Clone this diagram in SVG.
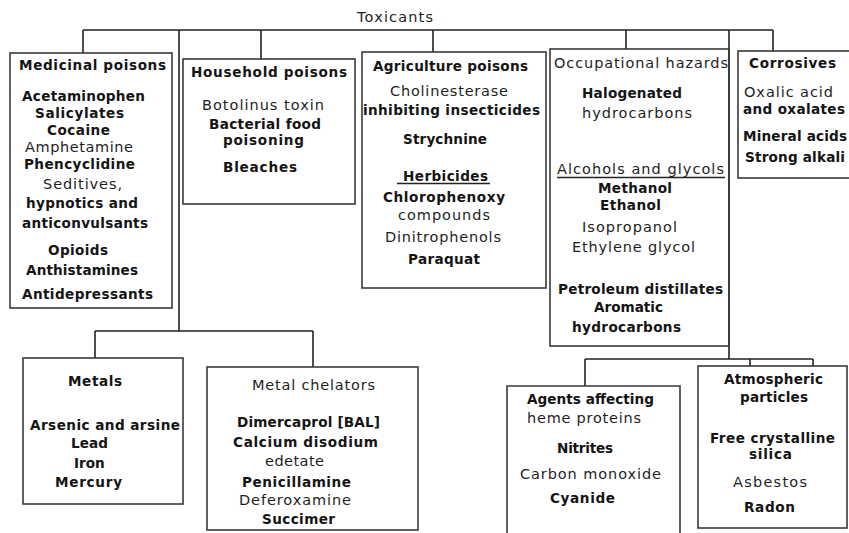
<svg xmlns="http://www.w3.org/2000/svg" width="849" height="533" viewBox="0 0 849 533">
<style>
.box{fill:none;stroke:#3a3a3a;stroke-width:1.6}
.con{fill:none;stroke:#222;stroke-width:1.6}
text{font-family:"DejaVu Sans","Liberation Sans",Arial,sans-serif;font-size:13.6px;fill:#141414;font-weight:bold}
text.r{font-weight:normal;font-size:14.5px;fill:#1e1e1e}
.ul{stroke:#222;stroke-width:1.3}
</style>
<rect width="849" height="533" fill="#fff"/>
<g id="connectors">
<path class="con" d="M83,30 H773 M83,30 V53 M261,30 V59 M433,30 V52 M626,30 V49 M773,30 V51"/>
<path class="con" d="M179,30 V331 M95,331 H313 M95,331 V358 M313,331 V367"/>
<path class="con" d="M729,30 V359 M585,359 H813 M585,359 V386 M750,359 V366 M813,359 V366"/>
</g>
<g id="toxicants">
<text class="r" x="357" y="22" textLength="76" lengthAdjust="spacing">Toxicants</text>
</g>
<g id="medicinal">
<rect class="box" x="10" y="53" width="162" height="255"/>
<text x="19" y="70" textLength="147" lengthAdjust="spacing">Medicinal poisons</text>
<text x="22" y="101" textLength="123" lengthAdjust="spacing">Acetaminophen</text>
<text x="35" y="118" textLength="89" lengthAdjust="spacing">Salicylates</text>
<text x="47" y="135" textLength="63" lengthAdjust="spacing">Cocaine</text>
<text class="r" x="25" y="152" textLength="108" lengthAdjust="spacing">Amphetamine</text>
<text x="24" y="169" textLength="111" lengthAdjust="spacing">Phencyclidine</text>
<text class="r" x="43" y="189" textLength="79" lengthAdjust="spacing">Seditives,</text>
<text x="26" y="208" textLength="112" lengthAdjust="spacing">hypnotics and</text>
<text x="22" y="228" textLength="126" lengthAdjust="spacing">anticonvulsants</text>
<text x="48" y="255" textLength="60" lengthAdjust="spacing">Opioids</text>
<text x="26" y="275" textLength="112" lengthAdjust="spacing">Anthistamines</text>
<text x="22" y="299" textLength="131" lengthAdjust="spacing">Antidepressants</text>
</g>
<g id="household">
<rect class="box" x="183" y="59" width="172" height="145"/>
<text x="191" y="77" textLength="156" lengthAdjust="spacing">Household poisons</text>
<text class="r" x="202" y="110" textLength="122" lengthAdjust="spacing">Botolinus toxin</text>
<text x="209" y="129" textLength="112" lengthAdjust="spacing">Bacterial food</text>
<text x="223" y="145" textLength="81" lengthAdjust="spacing">poisoning</text>
<text x="223" y="172" textLength="74" lengthAdjust="spacing">Bleaches</text>
</g>
<g id="agriculture">
<rect class="box" x="362" y="52" width="184" height="236"/>
<text x="373" y="71" textLength="155" lengthAdjust="spacing">Agriculture poisons</text>
<text class="r" x="390" y="96" textLength="118" lengthAdjust="spacing">Cholinesterase</text>
<text x="363" y="115" textLength="177" lengthAdjust="spacing">inhibiting insecticides</text>
<text x="403" y="144" textLength="84" lengthAdjust="spacing">Strychnine</text>
<text x="403" y="181" textLength="85" lengthAdjust="spacing">Herbicides</text>
<line class="ul" x1="397" y1="183.5" x2="490" y2="183.5"/>
<text x="383" y="202" textLength="122" lengthAdjust="spacing">Chlorophenoxy</text>
<text class="r" x="398" y="220" textLength="92" lengthAdjust="spacing">compounds</text>
<text class="r" x="385" y="242" textLength="116" lengthAdjust="spacing">Dinitrophenols</text>
<text x="408" y="264" textLength="72" lengthAdjust="spacing">Paraquat</text>
</g>
<g id="occupational">
<rect class="box" x="550" y="49" width="179" height="297"/>
<text class="r" x="554" y="68" textLength="174" lengthAdjust="spacing">Occupational hazards</text>
<text x="582" y="98" textLength="100" lengthAdjust="spacing">Halogenated</text>
<text class="r" x="582" y="118" textLength="110" lengthAdjust="spacing">hydrocarbons</text>
<text class="r" x="557" y="174" textLength="167" lengthAdjust="spacing">Alcohols and glycols</text>
<line class="ul" x1="557" y1="177.5" x2="725" y2="177.5"/>
<text x="598" y="193" textLength="74" lengthAdjust="spacing">Methanol</text>
<text x="600" y="210" textLength="61" lengthAdjust="spacing">Ethanol</text>
<text class="r" x="582" y="232" textLength="95" lengthAdjust="spacing">Isopropanol</text>
<text class="r" x="572" y="252" textLength="123" lengthAdjust="spacing">Ethylene glycol</text>
<text x="558" y="294" textLength="165" lengthAdjust="spacing">Petroleum distillates</text>
<text x="594" y="312" textLength="69" lengthAdjust="spacing">Aromatic</text>
<text x="572" y="332" textLength="109" lengthAdjust="spacing">hydrocarbons</text>
</g>
<g id="corrosives">
<rect class="box" x="738" y="51" width="120" height="127"/>
<text x="749" y="68" textLength="87" lengthAdjust="spacing">Corrosives</text>
<text class="r" x="744" y="97" textLength="89" lengthAdjust="spacing">Oxalic acid</text>
<text x="743" y="114" textLength="102" lengthAdjust="spacing">and oxalates</text>
<text x="743" y="141" textLength="104" lengthAdjust="spacing">Mineral acids</text>
<text x="745" y="162" textLength="100" lengthAdjust="spacing">Strong alkali</text>
</g>
<g id="metals">
<rect class="box" x="23" y="358" width="160" height="146"/>
<text x="68" y="386" textLength="54" lengthAdjust="spacing">Metals</text>
<text x="30" y="430" textLength="150" lengthAdjust="spacing">Arsenic and arsine</text>
<text x="71" y="448" textLength="37" lengthAdjust="spacing">Lead</text>
<text x="74" y="468">Iron</text>
<text x="55" y="487" textLength="67" lengthAdjust="spacing">Mercury</text>
</g>
<g id="chelators">
<rect class="box" x="207" y="367" width="211" height="163"/>
<text class="r" x="252" y="390" textLength="123" lengthAdjust="spacing">Metal chelators</text>
<text x="237" y="427" textLength="143" lengthAdjust="spacing">Dimercaprol [BAL]</text>
<text x="233" y="447" textLength="145" lengthAdjust="spacing">Calcium disodium</text>
<text class="r" x="265" y="466" textLength="59" lengthAdjust="spacing">edetate</text>
<text x="242" y="487" textLength="109" lengthAdjust="spacing">Penicillamine</text>
<text class="r" x="239" y="505" textLength="112" lengthAdjust="spacing">Deferoxamine</text>
<text x="262" y="524" textLength="73" lengthAdjust="spacing">Succimer</text>
</g>
<g id="heme">
<path class="box" d="M507,540 V386 H680 V540"/>
<text x="527" y="404" textLength="127" lengthAdjust="spacing">Agents affecting</text>
<text class="r" x="527" y="423" textLength="114" lengthAdjust="spacing">heme proteins</text>
<text x="557" y="453" textLength="56" lengthAdjust="spacing">Nitrites</text>
<text class="r" x="520" y="479" textLength="141" lengthAdjust="spacing">Carbon monoxide</text>
<text x="550" y="503" textLength="65" lengthAdjust="spacing">Cyanide</text>
</g>
<g id="atmospheric">
<rect class="box" x="698" y="366" width="149" height="162"/>
<text x="724" y="384" textLength="99" lengthAdjust="spacing">Atmospheric</text>
<text x="740" y="402" textLength="68" lengthAdjust="spacing">particles</text>
<text x="710" y="443" textLength="125" lengthAdjust="spacing">Free crystalline</text>
<text x="749" y="459" textLength="43" lengthAdjust="spacing">silica</text>
<text class="r" x="733" y="487" textLength="74" lengthAdjust="spacing">Asbestos</text>
<text x="744" y="512" textLength="51" lengthAdjust="spacing">Radon</text>
</g>
</svg>
